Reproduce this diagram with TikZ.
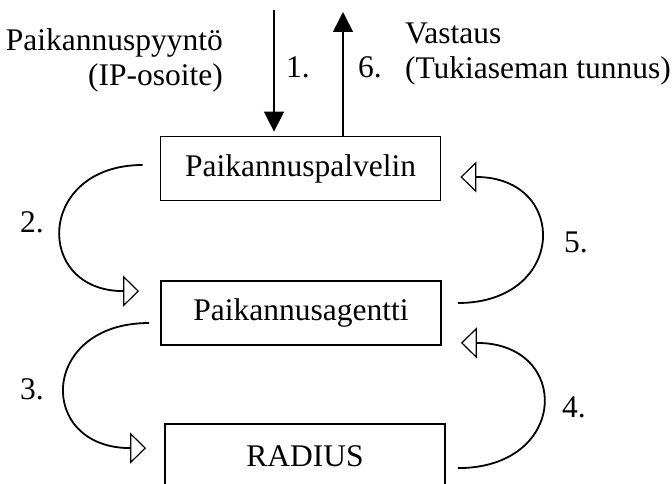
\documentclass[tikz,border=0pt]{standalone}
\usepackage{fontspec}
\setmainfont{Liberation Serif}
\usetikzlibrary{arrows.meta}

\begin{document}
\begin{tikzpicture}[
		x=0.5pt, y=0.5pt,
		font=\fontsize{15.75}{17.5}\selectfont,
		box/.style={draw, rectangle, line width=0.9pt, minimum width=140pt, minimum height=32pt, inner sep=0pt, align=center},
		num/.style={inner sep=0pt},
		arrow/.style={draw, line width=0.8pt, -{Triangle[length=10pt,width=10pt]}},
		turn/.style={draw, line width=0.9pt, -{Triangle[open,length=8pt,width=15.5pt,line width=0.6pt]}}
	]
	\useasboundingbox (0,0) rectangle (672,483);

	% boxes
	\node[box] (server) at (300.5, 314.5) {Paikannuspalvelin};
	\node[box] (agent) at (301, 170) {Paikannusagentti};
	\node[box] (radius) at (305, 27) {RADIUS};

	% request and response
	\coordinate (req) at (274, 473);
	\coordinate (resp) at (343, 471);
	\draw[arrow, shorten >=2pt] (req) -- ([xshift=-13.25pt]server.north);
	\draw[arrow] ([xshift=21.25pt]server.north) -- (resp);
	\node[anchor=east, align=right] (reqtext) at (230, 423) {Paikannuspyyntö\\(IP-osoite)};
	\node[anchor=west, align=left] (resptext) at (398, 429) {Vastaus\\(Tukiaseman tunnus)};
	\node[num] (n1) at (298, 416) {1.};
	\node[num] (n6) at (370, 416) {6.};

	% left side
	\draw[turn] ([xshift=-8.5pt, yshift=1.75pt]server.west) .. controls +(-106,0) and +(-106,0) .. ([xshift=-10.5pt, yshift=-5.5pt]agent.north west);
	\draw[turn] ([xshift=-5.5pt, yshift=-5pt]agent.west) .. controls +(-110,0) and +(-110,0) .. ([xshift=-9pt, yshift=-12.5pt]radius.north west);
	\node[num] (n2) at (32, 261) {2.};
	\node[num] (n3) at (32, 94) {3.};

	% right side
	\draw[turn] ([xshift=6pt, yshift=-22.5pt]radius.north east) .. controls +(111,0) and +(111,0) .. ([xshift=9.5pt, yshift=1.5pt]agent.south east);
	\draw[turn] ([xshift=8pt, yshift=5pt]agent.east) .. controls +(109,0) and +(109,0) .. ([xshift=9.5pt, yshift=-4.25pt]server.east);
	\node[num] (n5) at (576, 241) {5.};
	\node[num] (n4) at (574, 76) {4.};

\end{tikzpicture}
\end{document}
